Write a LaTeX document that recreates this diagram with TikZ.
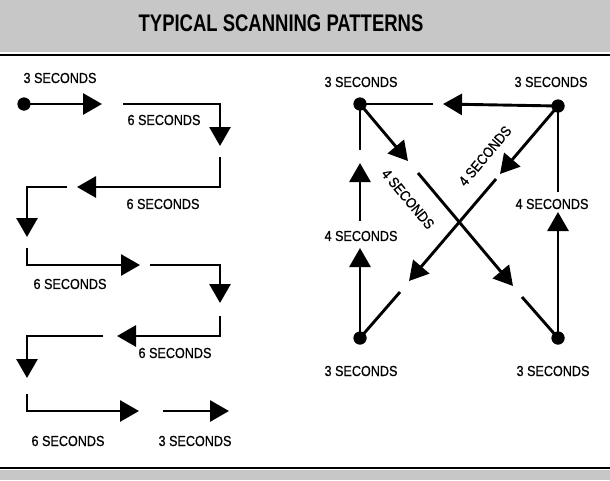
\documentclass[tikz,border=0pt]{standalone}
\usepackage{fontspec}
\setmainfont[FakeStretch=0.87,FakeBold=0.8]{Liberation Sans}
\newfontfamily\titlefont[FakeStretch=0.77]{Liberation Sans}
\usetikzlibrary{arrows.meta}
\begin{document}
\begin{tikzpicture}[x=1pt,y=-1pt,
  seg/.style={line width=2.9pt},
  arr/.style={seg,-{Triangle[length=19pt,width=21pt]}},
  dot/.style={circle,fill=black,inner sep=0pt,minimum size=13pt},
  lbl/.style={font=\fontsize{14.5}{16}\selectfont,inner sep=0pt},
  band/.style={fill=black!22}]
\useasboundingbox (0,0) rectangle (610,480);
% header and footer
\fill[band] (0,0) rectangle (610,52);
\draw[line width=2.6pt] (0,55) -- (610,55);
\node[anchor=base,inner sep=0pt,font=\titlefont\bfseries\fontsize{24}{26}\selectfont] (title) at (281,31) {TYPICAL SCANNING PATTERNS};
\draw[line width=2pt] (0,468) -- (610,468);
\fill[band] (0,470) rectangle (610,480);

% ---------- left pattern ----------
\node[dot] (start) at (24,104) {};
\coordinate (a1) at (102,104);
\coordinate (b0) at (123,104); \coordinate (b1) at (220,104); \coordinate (b2) at (220,146);
\coordinate (c0) at (220,157); \coordinate (c1) at (220,187); \coordinate (c2) at (77,187);
\coordinate (d0) at (67,187);  \coordinate (d1) at (27,187);  \coordinate (d2) at (27,237);
\coordinate (e0) at (27,248);  \coordinate (e1) at (27,265);  \coordinate (e2) at (140,265);
\coordinate (f0) at (150,265); \coordinate (f1) at (220,265); \coordinate (f2) at (220,303);
\coordinate (g0) at (220,316); \coordinate (g1) at (220,336); \coordinate (g2) at (117,336);
\coordinate (h0) at (103,336); \coordinate (h1) at (27,336);  \coordinate (h2) at (27,378);
\coordinate (i0) at (27,394);  \coordinate (i1) at (27,411);  \coordinate (i2) at (139,411);
\coordinate (j0) at (163,411); \coordinate (j1) at (229,411);
\draw[arr] (start.center) -- (a1);
\draw[arr] (b0) -- (b1) -- (b2);
\draw[arr] (c0) -- (c1) -- (c2);
\draw[arr] (d0) -- (d1) -- (d2);
\draw[arr] (e0) -- (e1) -- (e2);
\draw[arr] (f0) -- (f1) -- (f2);
\draw[arr] (g0) -- (g1) -- (g2);
\draw[arr] (h0) -- (h1) -- (h2);
\draw[arr] (i0) -- (i1) -- (i2);
\draw[arr] (j0) -- (j1);
\node[dot] at (start) {};
\node[lbl] (t1) at (60,78) {3 SECONDS};
\node[lbl] (t2) at (164,120) {6 SECONDS};
\node[lbl] (t3) at (163,204) {6 SECONDS};
\node[lbl] (t4) at (70,284) {6 SECONDS};
\node[lbl] (t5) at (175,353) {6 SECONDS};
\node[lbl] (t6) at (68,441) {6 SECONDS};
\node[lbl] (t7) at (195,441) {3 SECONDS};

% ---------- right pattern ----------
\node[dot] (TL) at (360,104) {};
\node[dot] (TR) at (558,106) {};
\node[dot] (BL) at (360,338) {};
\node[dot] (BR) at (558,338) {};
% TR -> TL
\coordinate (p1) at (443,104); \coordinate (p2) at (433,104);
\draw[arr] (TR.center) -- (p1);
\draw[seg] (p2) -- (TL.center);
% TL -> BR
\coordinate (q1) at (408,161); \coordinate (q2) at (418,173);
\coordinate (q3) at (513,286); \coordinate (q4) at (522,297);
\draw[arr] (TL.center) -- (q1);
\draw[arr] (q2) -- (q3);
\draw[seg] (q4) -- (BR.center);
% TR -> BL
\coordinate (r1) at (500,174); \coordinate (r2) at (496,179);
\coordinate (r3) at (409,281); \coordinate (r4) at (400,292);
\draw[arr] (TR.center) -- (r1);
\draw[arr] (r2) -- (r3);
\draw[seg] (r4) -- (BL.center);
% BL -> TL
\coordinate (s1) at (360,248); \coordinate (s2) at (360,221);
\coordinate (s3) at (360,163); \coordinate (s4) at (360,150);
\draw[arr] (BL.center) -- (s1);
\draw[arr] (s2) -- (s3);
\draw[seg] (s4) -- (TL.center);
% BR -> TR
\coordinate (u1) at (558,212); \coordinate (u2) at (558,192);
\draw[arr] (BR.center) -- (u1);
\draw[seg] (u2) -- (TR.center);
% dots on top
\foreach \n in {TL,TR,BL,BR} \node[dot] at (\n) {};
% labels
\node[lbl] (k1) at (361,82) {3 SECONDS};
\node[lbl] (k2) at (551,82) {3 SECONDS};
\node[lbl] (k3) at (361,371) {3 SECONDS};
\node[lbl] (k4) at (553,371) {3 SECONDS};
\node[lbl] (k5) at (361,236) {4 SECONDS};
\node[lbl] (k6) at (552,204) {4 SECONDS};
\node[lbl,rotate=-50] (k7) at (408,199) {4 SECONDS};
\node[lbl,rotate=50] (k8) at (485,156) {4 SECONDS};
\end{tikzpicture}
\end{document}
